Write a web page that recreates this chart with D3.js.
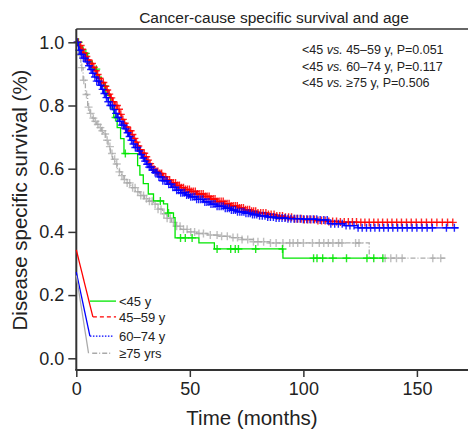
<!DOCTYPE html>
<html>
<head>
<meta charset="utf-8">
<title>Cancer-cause specific survival and age</title>
<script src="https://cdn.jsdelivr.net/npm/d3@7"></script>
<style>
body { margin: 0; background: #fff; }
svg { font-family: "Liberation Sans", Arial, sans-serif; }
.tick text { fill: #222; }
</style>
</head>
<body>
<svg id="chart" width="468" height="432"></svg>
<script>
// groups and styles
const groups = ['<45 y', '45\u201359 y', '60\u201374 y', '\u226575 yrs'];
const colors = ['#00e600', '#ff0000', '#0000ff', '#aaaaaa'];
const legendDash = [null, '4,3', '1.5,1.5', '5,2,1,2'];
const plotDash = [null, null, null, '5,2,1,2'];

// Kaplan-Meier steps: [months, survival]
const kmLt45 = [[0,1],[1.5,0.985],[3,0.965],[5,0.94],[7,0.915],[9,0.89],[11,0.862],[13,0.832],[15,0.792],[16.5,0.762],[18,0.73],[19.5,0.695],[21,0.648],[27,0.61],[28,0.58],[29.5,0.553],[31.7,0.52],[34,0.498],[38.4,0.489],[40.2,0.46],[42.8,0.445],[43.5,0.381],[54,0.365],[60.8,0.346],[91,0.317],[135,0.317]];
const km4559 = [[0,1],[1,0.99],[2,0.978],[3,0.966],[4,0.955],[5,0.944],[6,0.933],[7,0.921],[8,0.91],[9,0.898],[10,0.886],[11,0.873],[12,0.861],[13,0.849],[14,0.836],[15,0.824],[16,0.812],[17,0.8],[18,0.788],[19,0.772],[20,0.756],[21,0.744],[22,0.732],[23,0.72],[24,0.708],[25,0.696],[26,0.684],[27,0.672],[28,0.66],[29,0.649],[30,0.638],[31,0.627],[32,0.616],[33,0.606],[34,0.598],[35,0.591],[36,0.585],[38,0.574],[40,0.564],[42,0.555],[44,0.547],[46,0.54],[48,0.534],[50,0.528],[53,0.52],[56,0.512],[59,0.504],[62,0.496],[65,0.489],[68,0.482],[71,0.476],[74,0.47],[77,0.465],[80,0.46],[84,0.455],[88,0.45],[92,0.446],[96,0.442],[100,0.439],[105,0.436],[110,0.433],[116,0.431],[124,0.43],[165.8,0.43]];
const km6074 = [[0,1],[1,0.975],[2,0.962],[3,0.95],[4,0.938],[5,0.926],[6,0.914],[7,0.902],[8,0.89],[9,0.877],[10,0.864],[11,0.851],[12,0.838],[13,0.825],[14,0.812],[15,0.8],[16,0.787],[17,0.775],[18,0.762],[19,0.75],[20,0.738],[21,0.726],[22,0.714],[23,0.702],[24,0.69],[25,0.678],[26,0.667],[27,0.656],[28,0.645],[29,0.634],[30,0.624],[31,0.614],[32,0.605],[33,0.596],[34,0.588],[36,0.574],[38,0.562],[40,0.551],[42,0.541],[44,0.532],[46,0.524],[48,0.517],[50,0.511],[53,0.503],[56,0.495],[59,0.488],[62,0.481],[65,0.475],[68,0.469],[71,0.464],[74,0.459],[77,0.455],[80,0.451],[84,0.447],[88,0.444],[93,0.442],[100,0.44],[106,0.438],[111,0.426],[118,0.42],[124,0.413],[168.4,0.413]];
const kmGe75 = [[0,1],[1,0.96],[2,0.92],[3,0.88],[4,0.835],[5,0.795],[6,0.775],[7,0.76],[8,0.75],[9,0.74],[10,0.73],[11,0.72],[12,0.71],[13,0.69],[14,0.67],[15,0.648],[16,0.63],[17,0.615],[18,0.6],[19,0.59],[20,0.578],[21,0.566],[22,0.555],[24,0.54],[26,0.527],[28,0.515],[30,0.505],[32,0.497],[34,0.488],[36,0.472],[38,0.457],[40,0.443],[42,0.43],[44,0.418],[46,0.408],[49,0.4],[53,0.395],[58,0.39],[63,0.386],[68,0.382],[73,0.376],[78,0.369],[85,0.365],[129,0.317],[163,0.317]];

// censored times (months)
const cenLt45 = [1, 4.2, 8.8, 12.5, 17.3, 21.6, 37, 40.6, 45.9, 48, 51, 62, 68, 70, 71.4, 79, 90.8, 104.5, 106, 108.5, 113, 119, 128, 131, 135];
const cen4559 = [0.8, 1.9, 2.6, 3.5, 4.4, 5.1, 6.0, 6.9, 7.7, 8.6, 9.4, 10.2, 11.1, 11.9, 12.8, 13.6, 14.5, 15.4, 16.2, 17.0, 17.9, 18.8, 19.6, 20.5, 21.3, 22.2, 23.1, 23.9, 24.7, 25.6, 26.5, 27.3, 28.2, 29.0, 29.9, 30.8, 31.6, 32.5, 33.3, 34.2, 35.1, 35.9, 36.8, 37.6, 38.5, 39.4, 40.2, 41.1, 42.0, 42.8, 43.7, 44.6, 45.4, 46.3, 47.2, 48.0, 48.9, 49.8, 50.6, 51.5, 52.4, 53.3, 54.1, 55.0, 55.9, 56.8, 57.6, 58.5, 59.4, 60.3, 61.1, 62.0, 62.9, 63.8, 64.7, 65.5, 66.4, 67.3, 68.2, 69.1, 70.0, 70.9, 71.8, 72.7, 73.6, 74.5, 75.4, 76.3, 77.2, 78.1, 79.0, 80.0, 81.2, 82.3, 83.5, 84.6, 85.8, 87.1, 88.3, 89.6, 90.8, 92.1, 93.5, 94.8, 96.2, 97.5, 99.0, 100.4, 101.9, 103.3, 104.9, 106.4, 108.0, 109.6, 111.2, 112.9, 114.6, 116.3, 118.0, 119.8, 121.6, 123.4, 125.3, 127.1, 129.0, 131.0, 132.9, 134.9, 137.0, 139.0, 141.1, 143.2, 145.4, 147.5, 149.7, 152.0, 154.2, 156.5, 158.8, 161.2, 163.5, 165.8];
const cen6074 = [0.5, 1.4, 2.2, 3.1, 3.9, 4.8, 5.6, 6.5, 7.3, 8.2, 9.0, 9.9, 10.7, 11.6, 12.4, 13.3, 14.1, 15.0, 15.8, 16.7, 17.5, 18.4, 19.2, 20.1, 20.9, 21.8, 22.6, 23.5, 24.3, 25.2, 26.0, 26.9, 27.8, 28.6, 29.5, 30.3, 31.2, 32.1, 32.9, 33.8, 34.7, 35.5, 36.4, 37.3, 38.1, 39.0, 39.9, 40.7, 41.6, 42.5, 43.4, 44.2, 45.1, 46.0, 46.9, 47.7, 48.6, 49.5, 50.4, 51.3, 52.2, 53.0, 53.9, 54.8, 55.7, 56.6, 57.5, 58.4, 59.3, 60.2, 61.1, 62.0, 62.9, 63.8, 64.7, 65.6, 66.5, 67.4, 68.3, 69.2, 70.1, 71.0, 72.0, 72.9, 73.8, 74.7, 75.7, 76.6, 77.6, 78.5, 79.5, 80.7, 81.9, 83.1, 84.3, 85.5, 86.8, 88.0, 89.3, 90.6, 91.9, 93.2, 94.5, 95.9, 97.2, 98.6, 100.0, 101.5, 102.9, 104.4, 105.9, 107.4, 109.0, 110.5, 112.1, 113.8, 115.4, 117.1, 118.8, 120.5, 122.3, 124.1, 125.9, 127.8, 129.6, 131.5, 133.5, 135.4, 137.4, 139.4, 141.5, 143.6, 145.7, 147.9, 150.0, 152.3, 154.5, 156.8, 163.0, 166.5];
const cenGe75 = [0.6, 1.5, 2.4, 3.3, 4.5, 5.4, 6.3, 7.5, 8.4, 9.5, 10.6, 11.5, 12.7, 13.6, 14.8, 15.7, 16.9, 17.8, 19.0, 20.1, 21.2, 22.4, 23.5, 24.8, 25.9, 27.1, 28.4, 29.6, 30.9, 32.2, 33.4, 34.7, 36.0, 37.3, 38.6, 40.0, 41.4, 42.8, 44.2, 45.7, 47.2, 48.8, 50.4, 52.1, 54.0, 56.0, 59.0, 62.0, 64.0, 66.5, 69.0, 71.0, 73.0, 75.5, 78.0, 80.0, 82.5, 85.5, 88.0, 91.0, 94.0, 95.5, 97.5, 100.0, 104.0, 107.0, 109.0, 111.0, 113.0, 115.5, 117.0, 123.0, 124.5, 136.0, 138.5, 141.0, 143.5, 157.0, 160.5];

const kmData = [kmLt45, km4559, km6074, kmGe75];
const cenData = [cenLt45, cen4559, cen6074, cenGe75];

// legend, in data units: line row survival, start/end months, connector start survival
const legendRowS = [0.181, 0.131, 0.07, 0.016];
const legendX0 = [6.0, 7.3, 6.0, 7.0];
const legendX1 = [17.5, 17.5, 16.3, 15.8];
const connectorS = [null, 0.343, 0.273, 0.262];
const connectorT = [null, 7.3, 6.0, 5.4];

const pValues = ['<45 |vs.| 45\u201359 y, P=0.051', '<45 |vs.| 60\u201374 y, P=0.117', '<45 |vs.| \u226575 y, P=0.506'];
const xTicks = [0, 50, 100, 150];
const yTicks = [0, 0.2, 0.4, 0.6, 0.8, 1.0];

const svg = d3.select('#chart');
const x = d3.scaleLinear().domain([0, 172.5]).range([76.3, 468]);
const y = d3.scaleLinear().domain([0, 1]).range([358.3, 42.3]);
const plotTop = 29, plotBottom = 370;

// title
svg.append('text').attr('x', 274).attr('y', 23).attr('text-anchor', 'middle')
  .attr('font-size', 15.5).attr('fill', '#222').text('Cancer-cause specific survival and age');

// frame
svg.append('line').attr('x1', 76.3).attr('x2', 470).attr('y1', plotTop).attr('y2', plotTop)
  .attr('stroke', '#333').attr('stroke-width', 1.5);

// curves
function survAt(km, t) {
  let s = km[0][1];
  for (const k of km) { if (k[0] <= t) s = k[1]; }
  return s;
}
const line = d3.line().x(d => x(d[0])).y(d => y(d[1])).curve(d3.curveStepAfter);
const order = [3, 0, 1, 2];
order.forEach(i => {
  const g = svg.append('g');
  g.append('path').attr('d', line(kmData[i])).attr('fill', 'none')
    .attr('stroke', colors[i]).attr('stroke-width', 1.3)
    .attr('stroke-dasharray', plotDash[i]);
  const cross = 4;
  g.selectAll('path.c').data(cenData[i]).join('path').attr('class', 'c')
    .attr('d', t => {
      const cx = x(t), cy = y(survAt(kmData[i], t));
      return `M${cx - cross},${cy}H${cx + cross}M${cx},${cy - cross}V${cy + cross}`;
    })
    .attr('stroke', colors[i]).attr('stroke-width', 1.4)
    .attr('opacity', i === 3 ? 0.75 : 0.85);
});

// axes
const yAxis = d3.axisLeft(y).tickValues(yTicks).tickFormat(d3.format('.1f')).tickSize(8).tickPadding(4);
const yg = svg.append('g').attr('transform', 'translate(76.3,0)').call(yAxis);
yg.select('.domain').remove();
yg.selectAll('.tick line').attr('stroke', '#333').attr('stroke-width', 1.5);
yg.selectAll('.tick text').attr('font-size', 18).attr('font-family', '"Liberation Sans", Arial, sans-serif');
svg.append('line').attr('x1', 76.3).attr('x2', 76.3).attr('y1', plotTop).attr('y2', plotBottom)
  .attr('stroke', '#333').attr('stroke-width', 2);

const xAxis = d3.axisBottom(x).tickValues(xTicks).tickSize(7).tickPadding(5);
const xg = svg.append('g').attr('transform', `translate(0,${plotBottom})`).call(xAxis);
xg.select('.domain').remove();
xg.selectAll('.tick line').attr('stroke', '#333').attr('stroke-width', 1.5);
xg.selectAll('.tick text').attr('font-size', 18).attr('font-family', '"Liberation Sans", Arial, sans-serif');
svg.append('line').attr('x1', 75.3).attr('x2', 470).attr('y1', plotBottom).attr('y2', plotBottom)
  .attr('stroke', '#333').attr('stroke-width', 2);

// axis titles
svg.append('text').attr('x', 252).attr('y', 425).attr('text-anchor', 'middle')
  .attr('font-size', 20.5).attr('fill', '#222').text('Time (months)');
svg.append('text').attr('transform', 'translate(27,200) rotate(-90)').attr('text-anchor', 'middle')
  .attr('font-size', 20.5).attr('fill', '#222').text('Disease specific survival (%)');

// p-values
pValues.forEach((p, i) => {
  const parts = p.split('|');
  const t = svg.append('text').attr('x', 302).attr('y', 54.3 + i * 16.2)
    .attr('font-size', 12.5).attr('fill', '#222');
  parts.forEach((s, j) => {
    t.append('tspan').attr('font-style', j === 1 ? 'italic' : null).text(s);
  });
});

// legend
groups.forEach((name, i) => {
  if (connectorS[i] !== null) {
    svg.append('line').attr('x1', x(0)).attr('y1', y(connectorS[i]))
      .attr('x2', x(connectorT[i])).attr('y2', y(legendRowS[i]))
      .attr('stroke', colors[i]).attr('stroke-width', 1.3);
  }
  svg.append('line').attr('x1', x(legendX0[i])).attr('x2', x(legendX1[i]))
    .attr('y1', y(legendRowS[i])).attr('y2', y(legendRowS[i]))
    .attr('stroke', colors[i]).attr('stroke-width', 1.3)
    .attr('stroke-dasharray', legendDash[i]);
  svg.append('text').attr('x', 119).attr('y', y(legendRowS[i]) + 4.6)
    .attr('font-size', 13).attr('fill', '#222').text(name);
});
</script>
</body>
</html>
